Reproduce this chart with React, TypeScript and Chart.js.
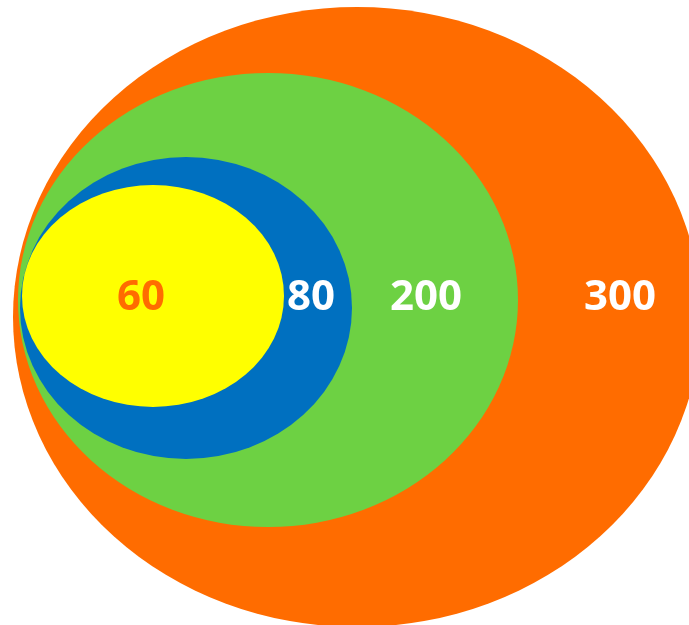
import React, { useEffect, useRef } from "react";
import { Chart, registerables } from "chart.js";

Chart.register(...registerables);

// Nested ellipses, outermost first
const labels = ["300", "200", "80", "60"];
const values = [300, 200, 80, 60];
const centerX = [357, 268, 186, 153];
const centerY = [317, 300, 308, 296];
const radiusX = [344, 250, 166, 131];
const radiusY = [310, 227, 151, 111];
const labelX = [620, 426, 311, 141];
const labelY = [298, 298, 298, 298];
const fillColors = ["#FF6C00", "#6DD143", "#0070C0", "#FFFF00"];
const textColors = ["#FFFFFF", "#FFFFFF", "#FFFFFF", "#FF6C00"];

const ellipsePlugin = {
  id: "ellipses",
  afterDatasetsDraw(chart: any) {
    const ctx = chart.ctx;
    const xs = chart.scales.x;
    const ys = chart.scales.y;
    ctx.save();
    for (let i = 0; i < values.length; i++) {
      const cx = xs.getPixelForValue(centerX[i]);
      const cy = ys.getPixelForValue(centerY[i]);
      const rx = Math.abs(xs.getPixelForValue(centerX[i] + radiusX[i]) - cx);
      const ry = Math.abs(ys.getPixelForValue(centerY[i] + radiusY[i]) - cy);
      ctx.beginPath();
      ctx.ellipse(cx, cy, rx, ry, 0, 0, Math.PI * 2);
      ctx.fillStyle = fillColors[i];
      ctx.fill();
    }
    ctx.font = "bold 42px 'Open Sans', sans-serif";
    ctx.textAlign = "center";
    ctx.textBaseline = "middle";
    for (let i = 0; i < values.length; i++) {
      ctx.fillStyle = textColors[i];
      ctx.fillText(
        labels[i],
        xs.getPixelForValue(labelX[i]),
        ys.getPixelForValue(labelY[i])
      );
    }
    ctx.restore();
  },
};

export default function App() {
  const ref = useRef<HTMLCanvasElement>(null);
  useEffect(() => {
    document.body.style.margin = "0";
    const chart = new Chart(ref.current!, {
      type: "scatter",
      data: {
        datasets: [
          {
            data: values.map((v, i) => ({ x: centerX[i], y: centerY[i] })),
            pointRadius: 0,
          },
        ],
      },
      options: {
        animation: false,
        responsive: false,
        layout: { padding: 0 },
        plugins: { legend: { display: false }, tooltip: { enabled: false } },
        scales: {
          x: { type: "linear", min: 0, max: 689, display: false },
          y: { type: "linear", min: 0, max: 625, reverse: true, display: false },
        },
      },
      plugins: [ellipsePlugin],
    });
    return () => chart.destroy();
  }, []);
  return (
    <div style={{ width: 689, height: 625 }}>
      <canvas ref={ref} width={689} height={625} />
    </div>
  );
}
